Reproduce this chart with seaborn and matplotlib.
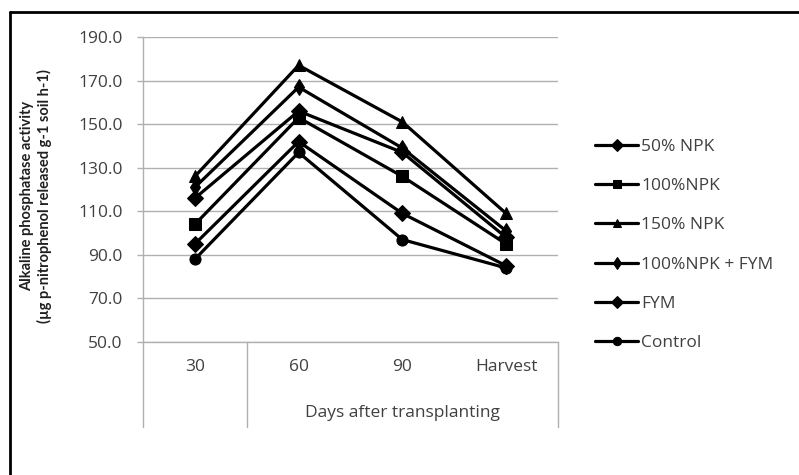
import numpy as np
import pandas as pd
import matplotlib
matplotlib.use("Agg")
import matplotlib.pyplot as plt
from matplotlib.lines import Line2D
import seaborn as sns

# data
stages = ["30", "60", "90", "Harvest"]
npk50 = [116, 156, 137, 98]
npk100 = [104, 153, 126, 95]
npk150 = [126, 177, 151, 109]
npk100_fym = [121, 167, 139, 101]
fym = [95, 142, 109, 85]
control = [88, 137, 97, 84]

series_names = ["50% NPK", "100%NPK", "150% NPK", "100%NPK + FYM", "FYM", "Control"]
series_values = [npk50, npk100, npk150, npk100_fym, fym, control]
series_markers = ["D", "s", "^", "d", "D", "o"]
y_ticks = [50, 70, 90, 110, 130, 150, 170, 190]

rows = []
for name, vals in zip(series_names, series_values):
    for i, v in enumerate(vals):
        rows.append({"stage_pos": i, "value": v, "treatment": name})
df = pd.DataFrame(rows)

sns.set_theme(style="white")
plt.rcParams["font.family"] = ["Open Sans", "DejaVu Sans"]

fig = plt.figure(figsize=(7.99, 4.75), dpi=100)
ax = fig.add_axes([143 / 799, 1 - 342 / 475, 415 / 799, 305 / 475])

grid_col = "#b0b0b0"
text_col = "#404040"
fs = 12.5

sns.lineplot(data=df, x="stage_pos", y="value", hue="treatment", style="treatment",
             hue_order=series_names, style_order=series_names,
             palette=["black"] * len(series_names), markers=dict(zip(series_names, series_markers)),
             dashes=False, linewidth=2.3, markersize=8, markeredgecolor="black",
             ax=ax, legend=True, zorder=3)

ax.set_xlim(-0.5, len(stages) - 0.5)
ax.set_ylim(50, 190)
ax.set_yticks(y_ticks)
ax.set_yticklabels([f"{t:.1f}" for t in y_ticks], fontsize=fs, color=text_col)
ax.set_xticks(range(len(stages)))
ax.set_xticklabels(stages, fontsize=fs, color=text_col)
ax.tick_params(axis="x", length=0, pad=12)
ax.tick_params(axis="y", length=4.5, width=1, color=grid_col, left=True, pad=10)
ax.yaxis.grid(True, color=grid_col, linewidth=1)
ax.set_axisbelow(True)
for side in ["top", "right"]:
    ax.spines[side].set_visible(False)
for side in ["left", "bottom"]:
    ax.spines[side].set_color(grid_col)
    ax.spines[side].set_linewidth(1)

ax.set_xlabel("")
ax.set_ylabel("Alkaline phosphatase activity\n(µg p-nitrophenol released g-1 soil h-1)",
              fontsize=10.5, fontweight="bold", linespacing=1.25, color="#202020",
              family=["Lato", "DejaVu Sans"])
ax.yaxis.set_label_coords((52 - 143) / 415, 0.48)

# category group separators below the axis
sep_bottom = -(427 - 342) / 305
for xs in [0.0, 0.25, 1.0]:
    ax.plot([xs, xs], [0, sep_bottom], transform=ax.transAxes, color=grid_col,
            linewidth=1, clip_on=False)
ax.text(0.625, -(413 - 342) / 305, "Days after transplanting", transform=ax.transAxes,
        ha="center", va="center", fontsize=fs, color=text_col)

# legend
handles, labels = ax.get_legend_handles_labels()
leg = ax.legend(handles, labels, loc="center left", bbox_to_anchor=(595 / 799, 1 - 245 / 475),
                bbox_transform=fig.transFigure, frameon=False, fontsize=fs,
                handlelength=2.5, handletextpad=0.15, labelspacing=1.33, borderpad=0,
                borderaxespad=0, markerscale=0.75)
for t in leg.get_texts():
    t.set_color(text_col)

# outer frame (top and left edges visible in the reference)
fig.add_artist(Line2D([10 / 799, 1], [1 - 12 / 475, 1 - 12 / 475], transform=fig.transFigure,
                      color="black", linewidth=2))
fig.add_artist(Line2D([10 / 799, 10 / 799], [0, 1 - 12 / 475], transform=fig.transFigure,
                      color="black", linewidth=2))

fig.savefig("out.png", dpi=100)
